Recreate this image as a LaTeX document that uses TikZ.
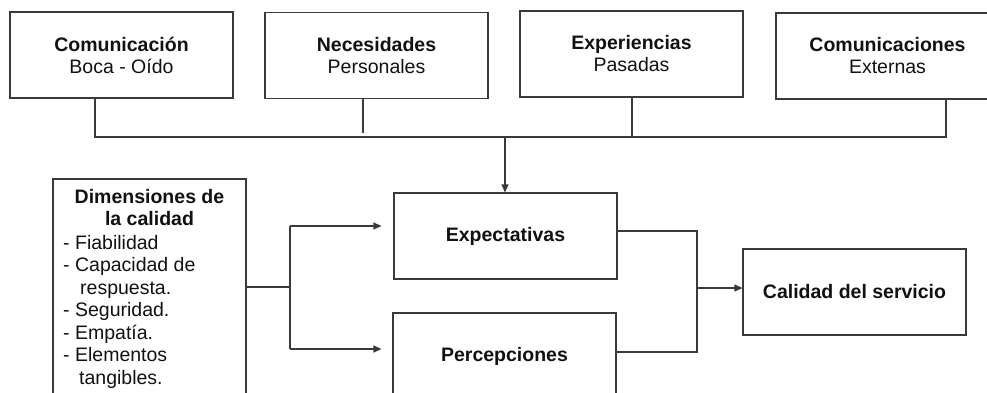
\documentclass[tikz,border=0pt]{standalone}
\usepackage{fontspec}
\setmainfont{Liberation Sans}
\usetikzlibrary{arrows.meta}
\definecolor{ln}{HTML}{3A3A3A}
\definecolor{tx}{HTML}{111111}
\begin{document}
\begin{tikzpicture}[x=1pt,y=-1pt,
  box/.style={draw=ln, line width=1.1pt, minimum width=223pt, minimum height=86pt, inner sep=0pt, align=center, text=tx, font=\fontsize{19.5}{22}\selectfont},
  conn/.style={draw=ln, line width=1.1pt},
  arr/.style={conn, -{Triangle[length=8pt,width=7pt]}},
  txt/.style={inner sep=0pt, text=tx, font=\fontsize{19.5}{22}\selectfont}]
\useasboundingbox (0,0) rectangle (987,392);
\clip (0,0) rectangle (987,392);
% top boxes
\node[box] (b1) at (121.5,55) {\textbf{Comunicación}\\Boca - Oído};
\node[box] (b2) at (376.5,55.5) {\textbf{Necesidades}\\Personales};
\node[box] (b3) at (631.5,54) {\textbf{Experiencias}\\Pasadas};
\node[box] (b4) at (887.5,56) {\textbf{Comunicaciones}\\Externas};
% middle boxes
\node[box] (exp) at (505.5,236) {\textbf{Expectativas}};
\node[box] (perc) at (504.5,356) {\textbf{Percepciones}};
\node[box] (cal) at (854.5,292) {\textbf{Calidad del servicio}};
% dimensiones box
\node[draw=ln, line width=1.1pt, minimum width=193pt, minimum height=240pt, inner sep=0pt] (dim) at (149.5,299) {};
\node[txt, anchor=base] (dt1) at (149.5,203) {\textbf{Dimensiones de}};
\node[txt, anchor=base] (dt2) at (149.5,225) {\textbf{la calidad}};
\node[txt, anchor=base west] (d1) at (63,249) {- Fiabilidad};
\node[txt, anchor=base west] (d2) at (63,271.5) {- Capacidad de};
\node[txt, anchor=base west] (d3) at (80,294) {respuesta.};
\node[txt, anchor=base west] (d4) at (63,316.5) {- Seguridad.};
\node[txt, anchor=base west] (d5) at (63,339) {- Empatía.};
\node[txt, anchor=base west] (d6) at (63,361.5) {- Elementos};
\node[txt, anchor=base west] (d7) at (79,384) {tangibles.};
% bus coordinates
\coordinate (j1) at (95,137);
\coordinate (j2) at (363,133);
\coordinate (j3) at (632,136);
\coordinate (j4) at (946,137);
\coordinate (jm) at (505,137);
\draw[conn] (b1.south -| j1) -- (j1) -- (j4) -- (b4.south -| j4);
\draw[conn] (b2.south -| j2) -- (j2);
\draw[conn] (b3.south -| j3) -- (j3);
\draw[arr] (jm) -- (exp.north -| jm);
% dimensiones fork
\coordinate (fk) at (290,287);
\coordinate (ft) at (290,226);
\coordinate (fb) at (290,349);
\draw[conn] (dim.east |- fk) -- (fk);
\draw[conn] (ft) -- (fb);
\draw[arr] (ft) -- ([xshift=-12pt]exp.west |- ft);
\draw[arr] (fb) -- ([xshift=-11pt]perc.west |- fb);
% right merge
\coordinate (r1) at (697,231);
\coordinate (r2) at (697,352);
\coordinate (rm) at (697,288);
\draw[conn] (exp.east |- r1) -- (r1) -- (r2) -- (perc.east |- r2);
\draw[arr] (rm) -- (cal.west |- rm);
\end{tikzpicture}
\end{document}
